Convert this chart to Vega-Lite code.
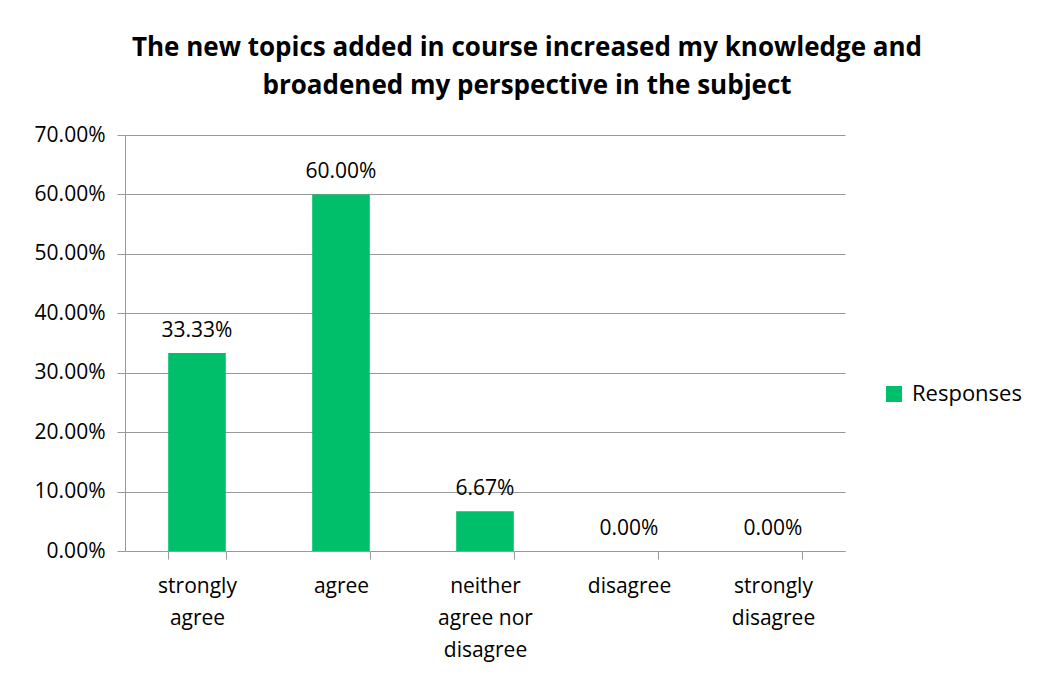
{
  "$schema": "https://vega.github.io/schema/vega-lite/v6.json",
  "width": 720,
  "height": 416,
  "autosize": {"type": "none"},
  "padding": {"left": 125, "top": 135, "right": 197, "bottom": 131},
  "background": "white",
  "config": {
    "font": "Open Sans",
    "view": {"stroke": null}
  },
  "title": {
    "text": ["The new topics added in course increased my knowledge and", "broadened my perspective in the subject"],
    "font": "Open Sans",
    "fontSize": 26,
    "fontWeight": "bold",
    "color": "#000000",
    "anchor": "middle",
    "dx": 42,
    "offset": 25,
    "lineHeight": 38
  },
  "data": {
    "values": [
      {"response": "strongly agree", "share": 0.3333, "series": "Responses"},
      {"response": "agree", "share": 0.60, "series": "Responses"},
      {"response": "neither agree nor disagree", "share": 0.0667, "series": "Responses"},
      {"response": "disagree", "share": 0.0, "series": "Responses"},
      {"response": "strongly disagree", "share": 0.0, "series": "Responses"}
    ]
  },
  "encoding": {
    "x": {
      "field": "response",
      "type": "nominal",
      "sort": null,
      "scale": {"paddingInner": 0.6, "paddingOuter": 0.3},
      "axis": {
        "title": null,
        "labelAngle": 0,
        "labelFontSize": 21,
        "labelColor": "#000000",
        "labelFont": "Open Sans",
        "labelPadding": 16,
        "labelLineHeight": 32,
        "labelBaseline": "top",
        "tickBand": "extent",
        "tickSize": 8,
        "tickColor": "#999999",
        "domainColor": "#999999",
        "labelExpr": "datum.value == 'strongly agree' ? ['strongly', 'agree'] : datum.value == 'neither agree nor disagree' ? ['neither', 'agree nor', 'disagree'] : datum.value == 'strongly disagree' ? ['strongly', 'disagree'] : datum.value"
      }
    },
    "y": {
      "field": "share",
      "type": "quantitative",
      "scale": {"domain": [0, 0.7]},
      "axis": {
        "title": null,
        "format": ".2%",
        "values": [0, 0.1, 0.2, 0.3, 0.4, 0.5, 0.6, 0.7],
        "labelFontSize": 21,
        "labelColor": "#000000",
        "labelFont": "Open Sans",
        "labelPadding": 12,
        "tickSize": 8,
        "tickColor": "#999999",
        "domainColor": "#999999",
        "grid": true,
        "gridColor": "#999999"
      }
    }
  },
  "layer": [
    {
      "mark": {"type": "bar"},
      "encoding": {
        "color": {
          "field": "series",
          "type": "nominal",
          "scale": {"range": ["#00BF6B"]},
          "legend": {
            "title": null,
            "orient": "none",
            "legendX": 758,
            "legendY": 248,
            "symbolType": "square",
            "symbolSize": 256,
            "labelFontSize": 22,
            "labelFont": "Open Sans",
            "labelColor": "#000000",
            "labelOffset": 7
          }
        }
      }
    },
    {
      "mark": {"type": "text", "baseline": "bottom", "dy": -12, "fontSize": 21, "font": "Open Sans", "color": "#000000"},
      "encoding": {
        "text": {"field": "share", "type": "quantitative", "format": ".2%"}
      }
    }
  ]
}
